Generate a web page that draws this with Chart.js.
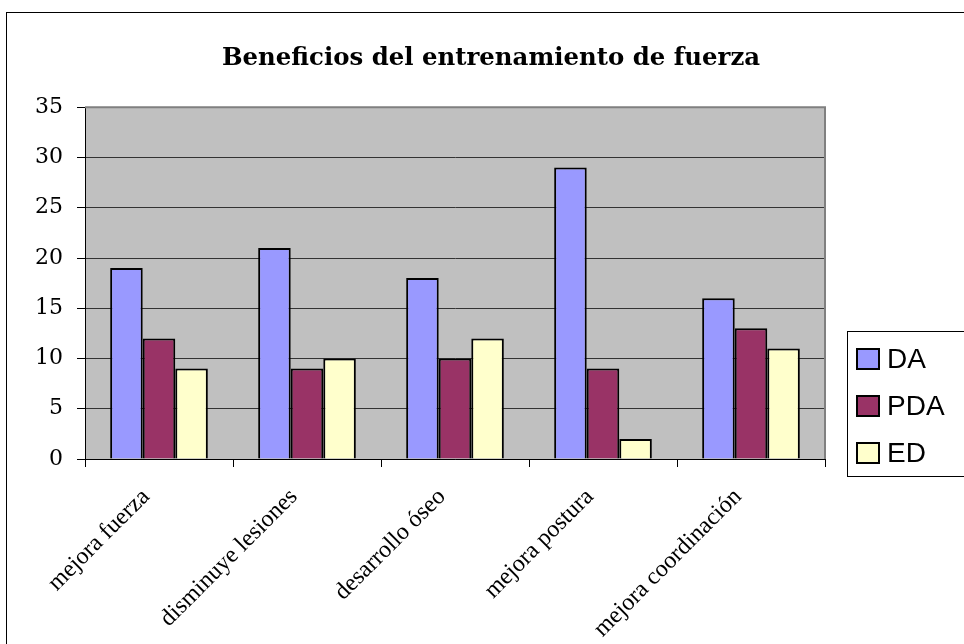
<html>
<head>
    <title>Beneficios del entrenamiento de fuerza</title>
    <script src="https://cdn.jsdelivr.net/npm/chart.js@4/dist/chart.umd.min.js"></script>
    <style>
        body { margin: 0; background: #fff; }
        #wrap { width: 964px; height: 644px; }
    </style>
</head>
<body>
    <div id="wrap"><canvas id="chartCanvas" width="964" height="644"></canvas></div>

    <script>
        const categories = [
            'mejora fuerza',
            'disminuye lesiones',
            'desarrollo óseo',
            'mejora postura',
            'mejora coordinación',
        ]
        const seriesNames = ['DA', 'PDA', 'ED']
        const daValues = [19, 21, 18, 29, 16]
        const pdaValues = [12, 9, 10, 9, 13]
        const edValues = [9, 10, 12, 2, 11]
        const seriesColors = ['#9999FF', '#993366', '#FFFFCC']

        // gray plot background, outer frame and plot border like the old office chart
        const framePlugin = {
            id: 'frame',
            beforeDraw(chart) {
                const { ctx, chartArea: a } = chart
                ctx.save()
                ctx.fillStyle = '#fff'
                ctx.fillRect(0, 0, chart.width, chart.height)
                ctx.fillStyle = '#C0C0C0'
                ctx.fillRect(a.left, a.top, a.right - a.left, a.bottom - a.top)
                ctx.strokeStyle = '#000'
                ctx.lineWidth = 1
                ctx.strokeRect(6.5, 12.5, 1100, 1100)
                ctx.restore()
            },
            afterDatasetsDraw(chart) {
                const { ctx, chartArea: a } = chart
                ctx.save()
                ctx.strokeStyle = '#808080'
                ctx.lineWidth = 2
                ctx.beginPath()
                ctx.moveTo(a.left, a.top)
                ctx.lineTo(a.right, a.top)
                ctx.lineTo(a.right, a.bottom)
                ctx.stroke()
                ctx.restore()
            },
        }

        // boxed legend on the right, drawn from the datasets
        const boxLegend = {
            id: 'boxLegend',
            afterDraw(chart) {
                const { ctx } = chart
                const x0 = 847, y0 = 331
                ctx.save()
                ctx.strokeStyle = '#000'
                ctx.lineWidth = 1
                ctx.strokeRect(x0 + 0.5, y0 + 0.5, 200, 145)
                ctx.font = '28px "Liberation Sans", Arial, sans-serif'
                ctx.textBaseline = 'middle'
                chart.data.datasets.forEach((ds, i) => {
                    const cy = y0 + 28 + i * 47
                    ctx.fillStyle = ds.backgroundColor
                    ctx.fillRect(x0 + 10, cy - 10, 22, 20)
                    ctx.lineWidth = 2
                    ctx.strokeRect(x0 + 10, cy - 10, 22, 20)
                    ctx.fillStyle = '#000'
                    ctx.fillText(ds.label, x0 + 40, cy + 1)
                })
                ctx.restore()
            },
        }

        const values = [daValues, pdaValues, edValues]
        const datasets = seriesNames.map((name, i) => ({
            label: name,
            data: values[i],
            backgroundColor: seriesColors[i],
            borderColor: '#000',
            borderWidth: 2,
            categoryPercentage: 0.66,
            barPercentage: 1.0,
        }))

        new Chart(document.getElementById('chartCanvas'), {
            type: 'bar',
            data: { labels: categories, datasets },
            plugins: [framePlugin, boxLegend],
            options: {
                responsive: false,
                animation: false,
                layout: { padding: { left: 18, right: 0, top: 0, bottom: 0 } },
                plugins: {
                    legend: { display: false },
                    tooltip: { enabled: false },
                    title: {
                        display: true,
                        text: 'Beneficios del entrenamiento de fuerza',
                        color: '#000',
                        font: { family: '"DejaVu Serif", serif', size: 24.4, weight: 'bold', lineHeight: 1.2 },
                        padding: { top: 44, bottom: 34 },
                    },
                },
                scales: {
                    x: {
                        afterFit: s => { s.height = 185 },
                        grid: {
                            drawOnChartArea: false,
                            drawTicks: true,
                            tickLength: 8,
                            color: '#000',
                        },
                        border: { color: '#000', width: 1 },
                        ticks: {
                            minRotation: 45,
                            maxRotation: 45,
                            autoSkip: false,
                            color: '#000',
                            padding: 16,
                            labelOffset: -13,
                            font: { family: '"Liberation Serif", "Times New Roman", serif', size: 24 },
                        },
                    },
                    y: {
                        min: 0,
                        max: 35,
                        afterFit: s => { s.width = 67 },
                        grid: {
                            color: ctx => (ctx.tick && ctx.tick.value === 35 ? '#808080' : '#333'),
                            tickLength: 8,
                            tickColor: '#000',
                        },
                        border: { color: '#000', width: 1 },
                        ticks: {
                            stepSize: 5,
                            color: '#000',
                            padding: 14,
                            font: { family: '"DejaVu Serif", serif', size: 22 },
                        },
                    },
                    // empty right axis that keeps room for the legend box
                    side: {
                        position: 'right',
                        afterFit: s => { s.width = 139 },
                        grid: { display: false },
                        border: { display: false },
                        ticks: { display: false },
                    },
                },
            },
        })
    </script>
</body>
</html>
